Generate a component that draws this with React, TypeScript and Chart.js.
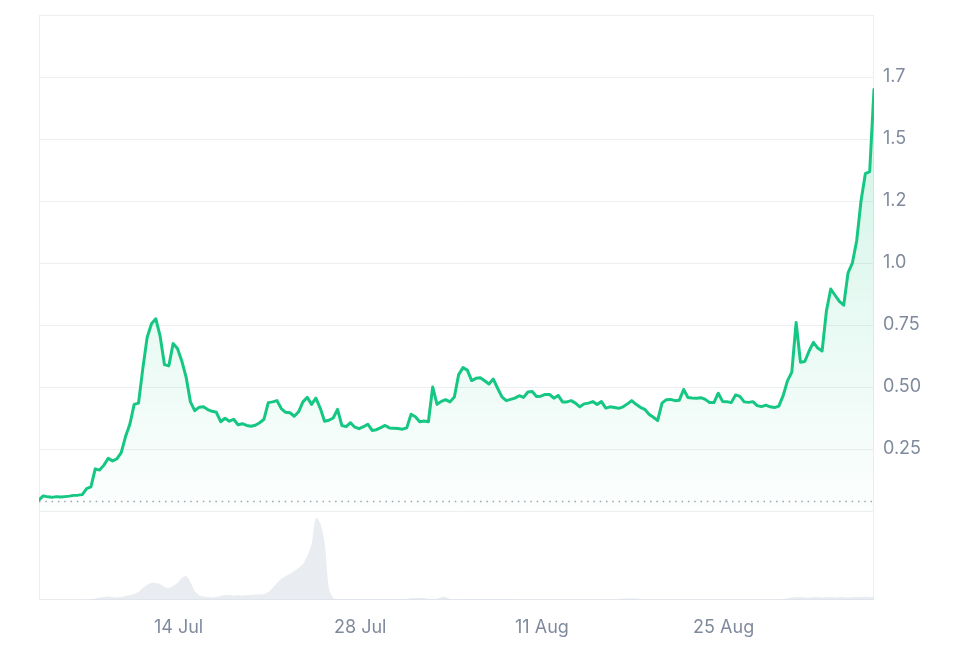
import React, { useEffect, useRef } from "react";
import { Chart, registerables } from "chart.js";

Chart.register(...registerables);

// time axis: days counted from 1 Jul 00:00, one sample every 8 hours
const START_DAY = 2.25;
const STEP_DAYS = 1 / 3;

const PRICES = [
  0.045, 0.061, 0.057, 0.055, 0.058, 0.056, 0.058, 0.060, 0.063, 0.064,
  0.066, 0.090, 0.097, 0.170, 0.165, 0.185, 0.212, 0.202, 0.210, 0.235,
  0.300, 0.350, 0.430, 0.435, 0.575, 0.700, 0.755, 0.775, 0.705, 0.590,
  0.585, 0.675, 0.655, 0.605, 0.540, 0.440, 0.405, 0.418, 0.420, 0.409,
  0.402, 0.398, 0.360, 0.374, 0.362, 0.370, 0.348, 0.352, 0.345, 0.342,
  0.346, 0.356, 0.370, 0.437, 0.440, 0.445, 0.413, 0.398, 0.396, 0.382,
  0.400, 0.440, 0.458, 0.430, 0.455, 0.415, 0.362, 0.366, 0.375, 0.410,
  0.345, 0.340, 0.356, 0.338, 0.332, 0.340, 0.350, 0.325, 0.328, 0.336,
  0.345, 0.335, 0.334, 0.333, 0.330, 0.335, 0.390, 0.380, 0.360, 0.363,
  0.360, 0.500, 0.430, 0.442, 0.449, 0.440, 0.460, 0.550, 0.578, 0.568,
  0.526, 0.535, 0.537, 0.525, 0.512, 0.532, 0.495, 0.460, 0.445, 0.450,
  0.455, 0.465, 0.458, 0.480, 0.482, 0.462, 0.463, 0.470, 0.470, 0.455,
  0.466, 0.440, 0.440, 0.445, 0.435, 0.420, 0.432, 0.435, 0.441, 0.430,
  0.441, 0.415, 0.420, 0.417, 0.414, 0.420, 0.432, 0.445, 0.430, 0.418,
  0.410, 0.390, 0.378, 0.365, 0.435, 0.449, 0.450, 0.445, 0.447, 0.490,
  0.458, 0.456, 0.455, 0.457, 0.450, 0.437, 0.437, 0.475, 0.442, 0.441,
  0.437, 0.468, 0.462, 0.440, 0.438, 0.441, 0.425, 0.421, 0.427, 0.420,
  0.417, 0.423, 0.465, 0.525, 0.560, 0.760, 0.600, 0.603, 0.645, 0.680,
  0.657, 0.645, 0.806, 0.895, 0.870, 0.845, 0.830, 0.960, 1.000, 1.090,
  1.250, 1.360, 1.368, 1.700,
];

const VOLUMES = [
  0.2, 0.2, 0.2, 0.2, 0.2, 0.2, 0.2, 0.2, 0.2, 0.2,
  0.3, 0.4, 0.8, 1.5, 2.5, 3, 3.5, 3, 2.5, 3,
  4, 5, 6, 8, 12, 15, 17, 17, 16, 13,
  12, 14, 17, 22, 24, 18, 9, 5, 3.5, 3,
  2.5, 3, 4, 5, 5, 4.5, 5, 4.5, 5, 5,
  5.5, 5.5, 6, 8, 12, 17, 21, 24, 26, 29,
  32, 36, 44, 56, 82, 77, 58, 12, 2, 1,
  1, 1, 1, 1, 1, 1, 1, 1, 1, 1,
  1, 1, 1, 1, 1, 1, 2, 2, 2, 2,
  1, 1, 1, 3, 3, 1, 1, 1, 1, 1,
  1, 1, 1, 1, 1, 1, 1, 1, 1, 1,
  0.8, 0.8, 0.8, 0.8, 0.8, 0.8, 0.8, 0.8, 0.8, 0.8,
  0.8, 0.8, 0.8, 0.8, 0.8, 0.8, 0.8, 0.8, 0.8, 0.8,
  0.8, 0.8, 0.8, 0.8, 0.8, 1.5, 1.5, 1.5, 1.5, 0.8,
  0.8, 0.8, 0.8, 0.8, 0.8, 0.8, 0.8, 0.8, 0.8, 0.8,
  0.8, 0.8, 0.8, 0.8, 0.8, 0.8, 0.8, 0.8, 0.8, 0.8,
  0.8, 0.8, 0.8, 0.8, 0.8, 0.8, 0.8, 0.8, 0.8, 0.8,
  0.8, 0.8, 1, 1.5, 2.5, 3, 3, 2.5, 2.5, 3,
  3, 2.5, 3, 3, 2.5, 3, 3, 2.5, 3, 3,
  3, 3.5, 3, 3,
];

const REFERENCE_PRICE = 0.038;
const VOLUME_AXIS_MAX = 89;

const X_TICK_DAYS = [13, 27, 41, 55];
const X_TICK_LABELS = ["14 Jul", "28 Jul", "11 Aug", "25 Aug"];
const Y_TICK_VALUES = [0, 0.25, 0.5, 0.75, 1.0, 1.25, 1.5, 1.75, 2.0];
const Y_TICK_LABELS = ["", "0.25", "0.50", "0.75", "1.0", "1.2", "1.5", "1.7", ""];

const GREEN = "#16c784";
const GRID = "#eceff2";
const TEXT = "#808a9d";
const FONT = "Inter, 'Liberation Sans', Arial, sans-serif";

export default function App() {
  const ref = useRef<HTMLCanvasElement | null>(null);

  useEffect(() => {
    const canvas = ref.current;
    if (!canvas) return;
    const days = PRICES.map((_, i) => START_DAY + i * STEP_DAYS);

    const framePlugin = {
      id: "frame",
      beforeDatasetsDraw(chart: any) {
        const { ctx, chartArea: a } = chart;
        ctx.save();
        ctx.strokeStyle = GRID;
        ctx.lineWidth = 1;
        const l = Math.round(a.left) + 0.5;
        const r = Math.round(a.right) - 0.5;
        const t = Math.round(a.top) + 0.5;
        const b = Math.round(a.bottom) - 0.5;
        ctx.beginPath();
        ctx.moveTo(l, t);
        ctx.lineTo(r, t);
        ctx.lineTo(r, b);
        ctx.lineTo(l, b);
        ctx.closePath();
        ctx.stroke();
        ctx.restore();
      },
    };

    const noPad = (s: any) => {
      s.width = 98;
      s.paddingTop = 0;
      s.paddingBottom = 0;
    };

    const chart = new Chart(canvas, {
      type: "line",
      data: {
        labels: days,
        datasets: [
          {
            label: "Price",
            data: PRICES,
            yAxisID: "y",
            borderColor: GREEN,
            borderWidth: 3,
            borderJoinStyle: "round",
            borderCapStyle: "round",
            pointRadius: 0,
            tension: 0,
            fill: "origin",
            backgroundColor: (c: any) => {
              const ch = c.chart;
              const ys = ch.scales && ch.scales.y;
              if (!ch.chartArea || !ys) return "rgba(22,199,132,0.1)";
              const g = ch.ctx.createLinearGradient(0, ys.top, 0, ys.bottom);
              g.addColorStop(0, "rgba(22,199,132,0.24)");
              g.addColorStop(1, "rgba(22,199,132,0.01)");
              return g;
            },
          },
          {
            label: "Reference",
            data: PRICES.map(() => REFERENCE_PRICE),
            yAxisID: "y",
            borderColor: "#9ba3af",
            borderWidth: 1.5,
            borderDash: [1.5, 4.8],
            pointRadius: 0,
            fill: false,
          },
          {
            label: "Volume",
            data: VOLUMES,
            yAxisID: "yv",
            borderWidth: 0,
            borderColor: "rgba(0,0,0,0)",
            pointRadius: 0,
            tension: 0.3,
            fill: "origin",
            backgroundColor: "rgba(215,221,230,0.55)",
          },
        ],
      },
      options: {
        responsive: true,
        maintainAspectRatio: false,
        animation: false,
        layout: { padding: { left: 31, top: 7, right: 0, bottom: 0 } },
        plugins: {
          legend: { display: false },
          tooltip: { enabled: false },
        },
        scales: {
          x: {
            type: "linear",
            min: days[0],
            max: days[days.length - 1],
            grid: { display: false },
            border: { display: false },
            afterBuildTicks: (s: any) => {
              s.ticks = X_TICK_DAYS.map((v) => ({ value: v }));
            },
            afterFit: (s: any) => {
              s.height = 45;
              s.paddingLeft = 0;
              s.paddingRight = 0;
            },
            ticks: {
              autoSkip: false,
              maxRotation: 0,
              padding: 9,
              color: TEXT,
              font: { family: FONT, size: 18 },
              callback: (_v: any, i: number) => X_TICK_LABELS[i],
            },
          },
          y: {
            position: "right",
            stack: "panels",
            stackWeight: 496,
            weight: 1,
            min: 0,
            max: 2,
            grid: { color: GRID, drawTicks: false },
            border: { display: false },
            afterBuildTicks: (s: any) => {
              s.ticks = Y_TICK_VALUES.map((v) => ({ value: v }));
            },
            afterFit: noPad,
            ticks: {
              padding: 9,
              color: TEXT,
              font: { family: FONT, size: 18 },
              callback: (_v: any, i: number) => Y_TICK_LABELS[i],
            },
          },
          yv: {
            position: "right",
            stack: "panels",
            stackWeight: 89,
            weight: 2,
            min: 0,
            max: VOLUME_AXIS_MAX,
            grid: { display: false },
            border: { display: false },
            ticks: { display: false },
            afterFit: noPad,
          },
        },
      } as any,
      plugins: [framePlugin],
    });

    return () => chart.destroy();
  }, []);

  return (
    <div style={{ width: 964, height: 637, position: "relative" }}>
      <canvas ref={ref} style={{ display: "block" }} />
    </div>
  );
}
